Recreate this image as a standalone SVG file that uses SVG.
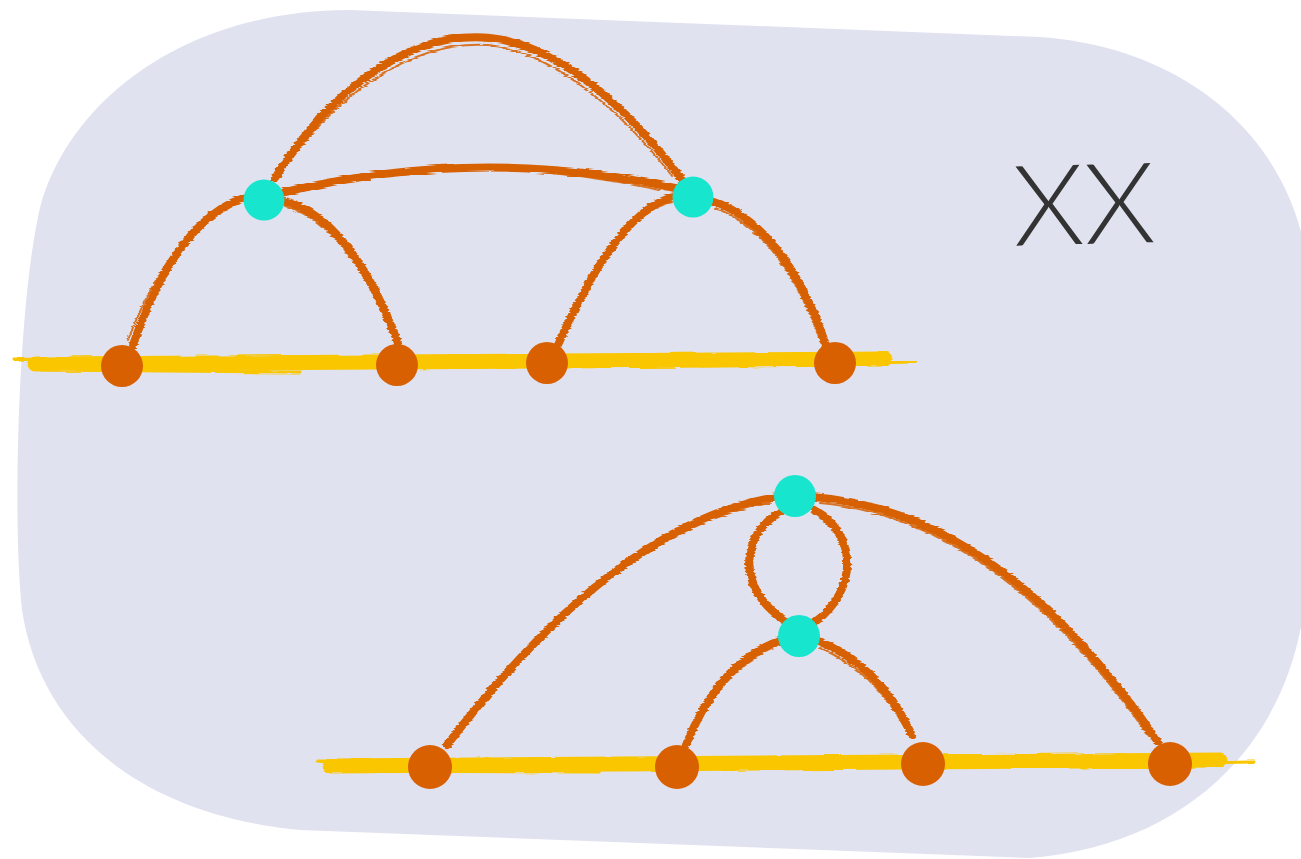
<svg xmlns="http://www.w3.org/2000/svg" width="1301" height="859" viewBox="0 0 1301 859">
<defs>
<filter id="rough" filterUnits="userSpaceOnUse" x="0" y="0" width="1301" height="859">
<feTurbulence type="fractalNoise" baseFrequency="0.03 0.5" numOctaves="2" seed="3" result="n"/>
<feDisplacementMap in="SourceGraphic" in2="n" scale="4" xChannelSelector="R" yChannelSelector="G"/>
</filter>
<style>
.bg{fill:#E1E2F0}
.arc{fill:none;stroke:#D76000;stroke-linecap:round;filter:url(#rough)}
.w1{stroke-width:8}
.w2{stroke-width:2;opacity:.85}
.brush{fill:none;stroke:#F9C600;stroke-linecap:round;filter:url(#rough)}
.on{fill:#D86000}
.cn{fill:#18E5CE}
.lbl{font-family:Lato,"Open Sans","Liberation Sans",sans-serif;font-weight:300;font-size:112px;fill:#333333}
</style>
</defs>
<path class="bg" d="M350,10 L1040,37 C1190,48 1285,140 1305,250 L1305,600 C1290,740 1190,845 1030,858 L300,830 C140,815 40,730 22,610 C12,520 18,290 42,200 C75,95 190,10 350,10 Z"/>
<g id="baselines">
<path class="brush" d="M35,364 L885,359" stroke-width="15"/>
<path class="brush" d="M14,359 L200,362" stroke-width="3"/>
<path class="brush" d="M40,370 L300,372" stroke-width="3"/>
<path class="brush" d="M700,366 L915,362" stroke-width="3"/>
<path class="brush" d="M330,766 L1220,760" stroke-width="15"/>
<path class="brush" d="M317,761 L500,763" stroke-width="3"/>
<path class="brush" d="M340,771 L600,772" stroke-width="3"/>
<path class="brush" d="M1000,766 L1254,762" stroke-width="3"/>
</g>
<g id="connectors">
<path class="arc w1" d="M133,345 Q180,210 255,195"/>
<path class="arc w2" d="M128,340 Q176,215 250,200"/>
<path class="arc w1" d="M280,200 Q350,215 398,343"/>
<path class="arc w2" d="M284,206 Q346,222 392,335"/>
<path class="arc w1" d="M275,178 C330,90 410,30 490,38 C560,45 630,110 682,180"/>
<path class="arc w2" d="M282,172 C336,94 412,40 488,45 C555,52 625,115 672,176"/>
<path class="arc w1" d="M285,192 Q480,145 675,188"/>
<path class="arc w2" d="M300,186 Q480,150 660,190"/>
<path class="arc w1" d="M678,196 Q620,205 558,345"/>
<path class="arc w2" d="M672,202 Q616,214 565,335"/>
<path class="arc w1" d="M710,200 Q785,225 826,345"/>
<path class="arc w2" d="M715,208 Q780,232 818,335"/>
<path class="arc w1" d="M447,745 Q620,520 778,497"/>
<path class="arc w2" d="M453,735 Q622,528 770,503"/>
<path class="arc w1" d="M812,497 Q1000,510 1158,742"/>
<path class="arc w2" d="M820,503 Q995,518 1148,735"/>
<path class="arc w1" d="M781,512 C738,535 738,590 784,620"/>
<path class="arc w2" d="M776,518 C744,540 744,585 778,612"/>
<path class="arc w1" d="M815,510 C858,535 858,590 815,622"/>
<path class="arc w2" d="M820,518 C852,540 852,585 822,612"/>
<path class="arc w1" d="M782,640 Q720,660 686,745"/>
<path class="arc w2" d="M776,646 Q724,668 692,735"/>
<path class="arc w1" d="M816,640 Q880,665 912,735"/>
<path class="arc w2" d="M820,648 Q875,672 905,728"/>
</g>
<g id="n1"><circle class="on" cx="122" cy="366" r="21"/></g>
<g id="n2"><circle class="on" cx="397" cy="365" r="21"/></g>
<g id="n3"><circle class="on" cx="547" cy="363" r="21"/></g>
<g id="n4"><circle class="on" cx="835" cy="363" r="21"/></g>
<g id="n5"><circle class="on" cx="430" cy="767" r="22"/></g>
<g id="n6"><circle class="on" cx="677" cy="767" r="22"/></g>
<g id="n7"><circle class="on" cx="923" cy="764" r="22"/></g>
<g id="n8"><circle class="on" cx="1170" cy="764" r="22"/></g>
<g id="c1"><circle class="cn" cx="264" cy="200" r="20.5"/></g>
<g id="c2"><circle class="cn" cx="693" cy="197" r="20.5"/></g>
<g id="c3"><circle class="cn" cx="795" cy="496" r="21"/></g>
<g id="c4"><circle class="cn" cx="799" cy="636" r="21"/></g>
<g id="label"><text class="lbl" x="1013" y="244" textLength="142" lengthAdjust="spacingAndGlyphs" transform="rotate(-1.5 1085 205)">XX</text></g>
</svg>
